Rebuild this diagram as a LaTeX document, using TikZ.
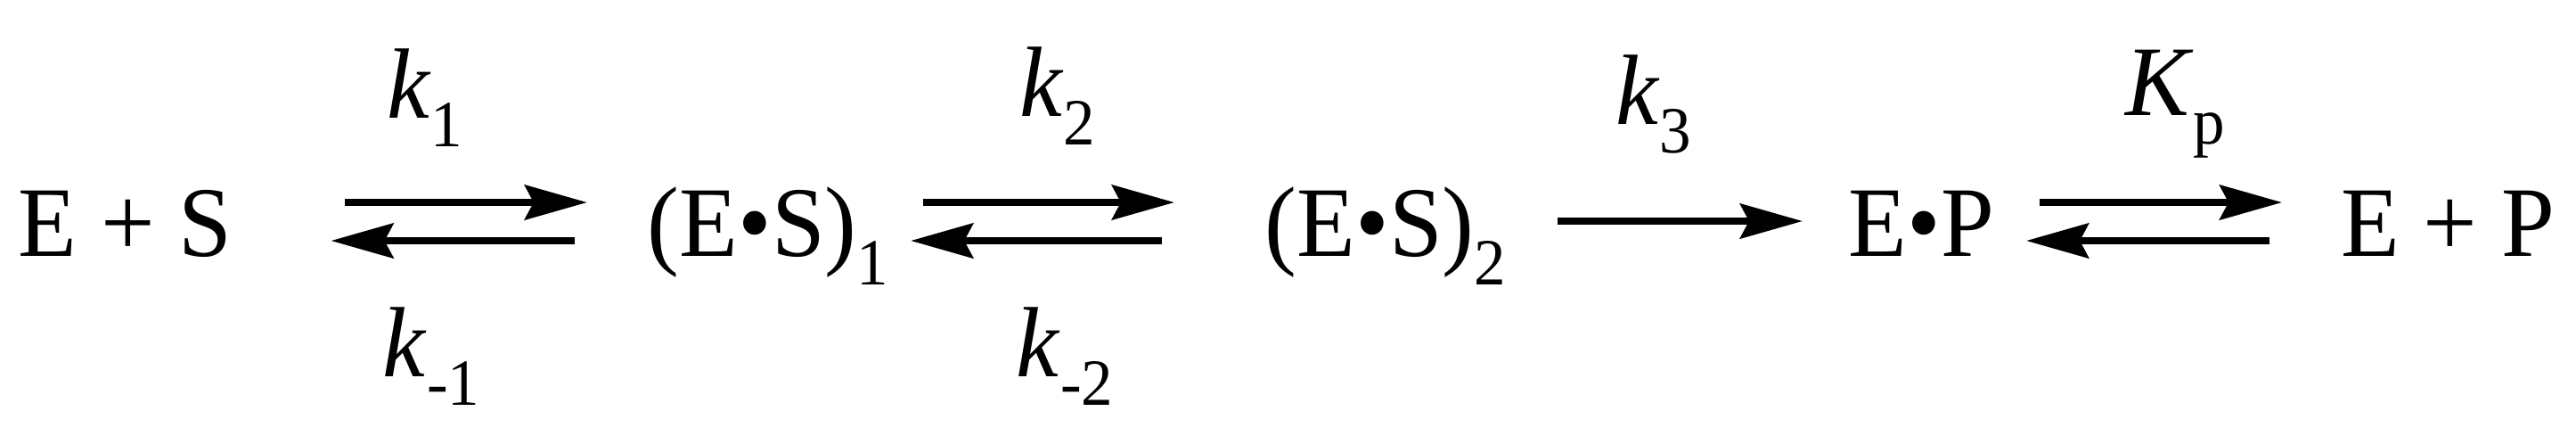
\documentclass[tikz,border=0pt]{standalone}
\usepackage{fontspec}
\setmainfont{Liberation Serif}[FakeStretch=0.96]
\usetikzlibrary{arrows.meta}

\newcommand{\lowsub}[1]{\raisebox{-3.2pt}{\fontsize{7.4pt}{8pt}\selectfont #1}}
\newcommand{\krate}[1]{\textit{k}\lowsub{#1}}

\begin{document}
\begin{tikzpicture}[x=10pt,y=10pt]
        % Define styles for nodes and edges
        \tikzstyle{species} = [inner sep=0pt, anchor=base, font=\fontsize{11.2pt}{13pt}\selectfont]
        \tikzstyle{rate} = [species]
        \tikzstyle{arrow} = [line width=0.75pt, -{Stealth[length=7pt, width=3.9pt, inset=1pt]}]

        \useasboundingbox (0,0) rectangle (28.91,4.88);

        % Nodes
        \node[species] (es) at (1.406,2.01) {E + S};
        \node[species] (es1) at (8.62,2.01) {(E•S)\lowsub{1}};
        \node[species] (es2) at (15.55,2.01) {(E•S)\lowsub{2}};
        \node[species] (ep) at (21.565,2.01) {E•P};
        \node[species] (eplus) at (27.47,2.01) {E + P};

        % Rate constants
        \node[rate] (k1) at (4.77,3.56) {\krate{1}};
        \node[rate] (km1) at (4.84,0.66) {\krate{-1}};
        \node[rate] (k2) at (11.87,3.58) {\krate{2}};
        \node[rate] (km2) at (11.95,0.66) {\krate{-2}};
        \node[rate] (k3) at (18.56,3.49) {\krate{3}};
        \node[rate] (kp) at (24.41,3.59) {\textit{K}\lowsub{p}};

        % Arrows
        \draw[arrow, shorten <=12.4pt, shorten >=6.6pt] ([yshift=6pt]es.base east) -- ([yshift=6pt]es1.base west);
        \draw[arrow, shorten <=8pt, shorten >=10.9pt] ([yshift=1.7pt]es1.base west) -- ([yshift=1.7pt]es.base east);
        \draw[arrow, shorten <=3.7pt, shorten >=10pt] ([yshift=6pt]es1.base east) -- ([yshift=6pt]es2.base west);
        \draw[arrow, shorten <=11.4pt, shorten >=2.3pt] ([yshift=1.7pt]es2.base west) -- ([yshift=1.7pt]es1.base east);
        \draw[arrow, shorten <=5.6pt, shorten >=5pt] ([yshift=3.9pt]es2.base east) -- ([yshift=3.9pt]ep.base west);
        \draw[arrow, shorten <=4.9pt, shorten >=6.4pt] ([yshift=6pt]ep.base east) -- ([yshift=6pt]eplus.base west);
        \draw[arrow, shorten <=7.8pt, shorten >=3.4pt] ([yshift=1.7pt]eplus.base west) -- ([yshift=1.7pt]ep.base east);
\end{tikzpicture}
\end{document}
